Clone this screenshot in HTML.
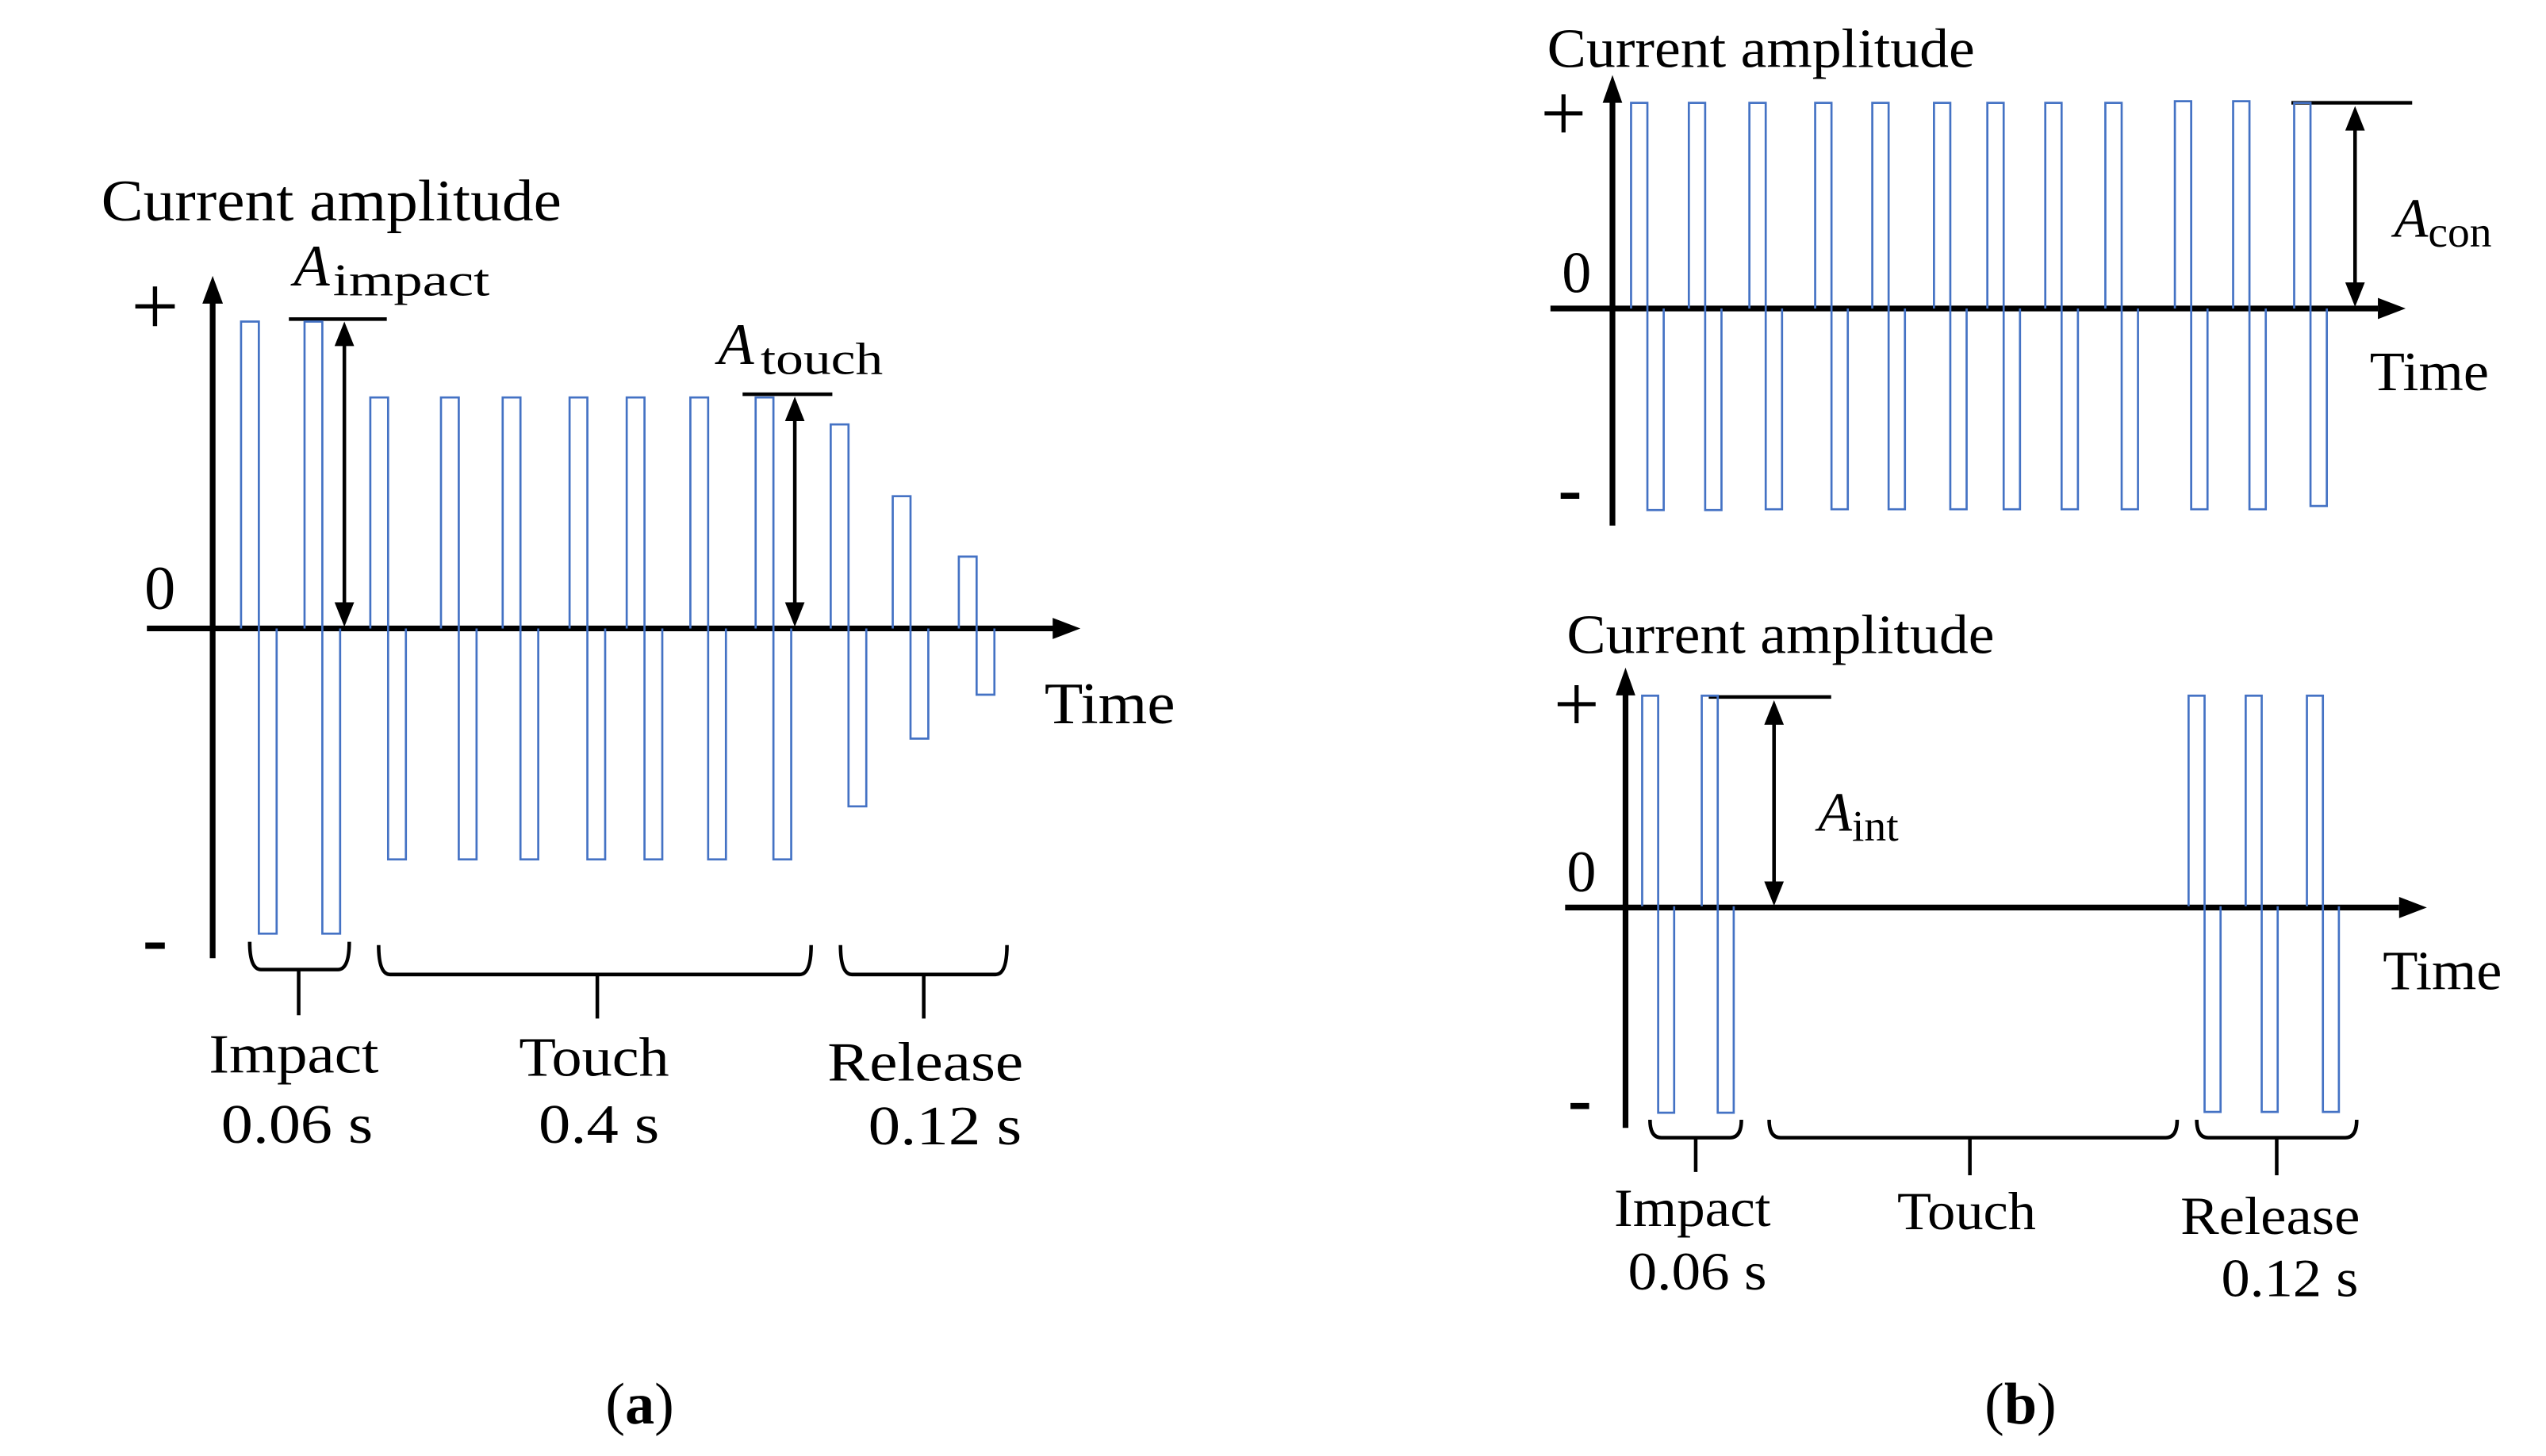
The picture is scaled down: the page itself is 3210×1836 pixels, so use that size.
<!DOCTYPE html>
<html><head><meta charset="utf-8"><style>
html,body{margin:0;padding:0;background:#fff}
svg{display:block}
text{font-family:"Liberation Serif",serif;fill:#000}
</style></head><body>
<svg id="fig" width="3210" height="1836" viewBox="0 0 1560 892" preserveAspectRatio="none" xmlns="http://www.w3.org/2000/svg">
<g id="pa">
  <line x1="130.3" y1="587" x2="130.3" y2="182" stroke="#000" stroke-width="3.5"/>
  <polygon points="130.3,169 124,186 136.6,186"/>
  <line x1="90" y1="385" x2="646" y2="385" stroke="#000" stroke-width="3.5"/>
  <polygon points="662,385 645,378.5 645,391.5"/>
  <text x="62" y="135" font-size="36" textLength="282" lengthAdjust="spacingAndGlyphs">Current amplitude</text>
  <text x="95" y="205" font-size="52" text-anchor="middle">+</text>
  <text x="98" y="373" font-size="38" text-anchor="middle">0</text>
  <text x="95" y="590" font-size="46" font-weight="bold" text-anchor="middle">-</text>
  <text x="640" y="443" font-size="36" textLength="80" lengthAdjust="spacingAndGlyphs">Time</text>
  <line x1="177" y1="195.5" x2="237" y2="195.5" stroke="#000" stroke-width="2.2"/>
  <line x1="211" y1="210" x2="211" y2="370" stroke="#000" stroke-width="2.2"/>
  <polygon points="211,197 205,212 217,212"/>
  <polygon points="211,384 205,369 217,369"/>
  <text x="180" y="175" font-size="36" font-style="italic">A</text>
  <text x="204" y="181" font-size="28" textLength="96" lengthAdjust="spacingAndGlyphs">impact</text>
  <line x1="455" y1="241.5" x2="510" y2="241.5" stroke="#000" stroke-width="2.2"/>
  <line x1="487" y1="256" x2="487" y2="370" stroke="#000" stroke-width="2.2"/>
  <polygon points="487,243 481,258 493,258"/>
  <polygon points="487,384 481,369 493,369"/>
  <text x="440" y="223" font-size="36" font-style="italic">A</text>
  <text x="466" y="229" font-size="28" textLength="75" lengthAdjust="spacingAndGlyphs">touch</text>
  <g id="pa-pulses"></g>
  <g id="pa-braces"></g>
  <text x="180" y="657" font-size="34" text-anchor="middle" textLength="104" lengthAdjust="spacingAndGlyphs">Impact</text>
  <text x="182" y="700" font-size="34" text-anchor="middle" textLength="93" lengthAdjust="spacingAndGlyphs">0.06 s</text>
  <text x="364" y="659" font-size="34" text-anchor="middle" textLength="92" lengthAdjust="spacingAndGlyphs">Touch</text>
  <text x="367" y="700" font-size="34" text-anchor="middle" textLength="74" lengthAdjust="spacingAndGlyphs">0.4 s</text>
  <text x="567" y="662" font-size="34" text-anchor="middle" textLength="120" lengthAdjust="spacingAndGlyphs">Release</text>
  <text x="579" y="701" font-size="34" text-anchor="middle" textLength="94" lengthAdjust="spacingAndGlyphs">0.12 s</text>
  <text x="392" y="872" font-size="36" text-anchor="middle">(<tspan font-weight="bold">a</tspan>)</text>
</g>
<g id="pb">
  <line x1="988" y1="322" x2="988" y2="60" stroke="#000" stroke-width="3.5"/>
  <polygon points="988,46 982,63 994,63"/>
  <line x1="950" y1="189" x2="1457" y2="189" stroke="#000" stroke-width="3.5"/>
  <polygon points="1474,189 1457,182.5 1457,195.5"/>
  <text x="948" y="41" font-size="34" textLength="262" lengthAdjust="spacingAndGlyphs">Current amplitude</text>
  <text x="958" y="86" font-size="50" text-anchor="middle">+</text>
  <text x="966" y="179" font-size="36" text-anchor="middle">0</text>
  <text x="962" y="314" font-size="44" font-weight="bold" text-anchor="middle">-</text>
  <text x="1452" y="239" font-size="34" textLength="73" lengthAdjust="spacingAndGlyphs">Time</text>
  <line x1="1404" y1="63" x2="1478" y2="63" stroke="#000" stroke-width="2.2"/>
  <line x1="1443" y1="78" x2="1443" y2="174" stroke="#000" stroke-width="2.2"/>
  <polygon points="1443,65 1437,80 1449,80"/>
  <polygon points="1443,188 1437,173 1449,173"/>
  <text x="1467" y="145" font-size="34"><tspan font-style="italic">A</tspan><tspan font-size="27" dy="6">con</tspan></text>
  <g id="pb1-pulses"></g>
</g>
<g id="pb2">
  <line x1="996" y1="691" x2="996" y2="423" stroke="#000" stroke-width="3.5"/>
  <polygon points="996,409 990,426 1002,426"/>
  <line x1="959" y1="556" x2="1470" y2="556" stroke="#000" stroke-width="3.5"/>
  <polygon points="1487,556 1470,549.5 1470,562.5"/>
  <text x="960" y="400" font-size="34" textLength="262" lengthAdjust="spacingAndGlyphs">Current amplitude</text>
  <text x="966" y="448" font-size="50" text-anchor="middle">+</text>
  <text x="969" y="546" font-size="36" text-anchor="middle">0</text>
  <text x="968" y="688" font-size="44" font-weight="bold" text-anchor="middle">-</text>
  <text x="1460" y="606" font-size="34" textLength="73" lengthAdjust="spacingAndGlyphs">Time</text>
  <line x1="1047" y1="427" x2="1122" y2="427" stroke="#000" stroke-width="2.2"/>
  <line x1="1087" y1="442" x2="1087" y2="541" stroke="#000" stroke-width="2.2"/>
  <polygon points="1087,429 1081,444 1093,444"/>
  <polygon points="1087,555 1081,540 1093,540"/>
  <text x="1114" y="509" font-size="34"><tspan font-style="italic">A</tspan><tspan font-size="27" dy="6">int</tspan></text>
  <g id="pb2-pulses"></g>
  <g id="pb2-braces"></g>
  <text x="1037" y="751" font-size="33" text-anchor="middle" textLength="96" lengthAdjust="spacingAndGlyphs">Impact</text>
  <text x="1040" y="790" font-size="33" text-anchor="middle" textLength="85" lengthAdjust="spacingAndGlyphs">0.06 s</text>
  <text x="1205" y="753" font-size="33" text-anchor="middle" textLength="85" lengthAdjust="spacingAndGlyphs">Touch</text>
  <text x="1391" y="756" font-size="33" text-anchor="middle" textLength="110" lengthAdjust="spacingAndGlyphs">Release</text>
  <text x="1403" y="794" font-size="33" text-anchor="middle" textLength="84" lengthAdjust="spacingAndGlyphs">0.12 s</text>
  <text x="1238" y="872" font-size="36" text-anchor="middle">(<tspan font-weight="bold">b</tspan>)</text>
</g>
</svg>
<script>
// Panel (a): pulse start times (px from y-axis) and amplitudes
const aTimes = [17.4, 56.3, 96.6, 139.9, 177.7, 218.7, 253.7, 292.7, 332.7, 378.7, 416.7, 457.2];
const aPos = [188, 188, 141.5, 141.5, 141.5, 141.5, 141.5, 141.5, 141.5, 125, 81, 44];
const aNeg = [187, 187, 141.5, 141.5, 141.5, 141.5, 141.5, 141.5, 141.5, 109, 67.5, 40.6];
// Panel (b) continuous
const b1Times = [15.8, 51.2, 88.3, 128.6, 163.6, 201.4, 234.1, 269.6, 306.4, 349, 384.7, 422.1];
const b1Pos = [126, 126, 126, 126, 126, 126, 126, 126, 126, 127, 127, 126];
const b1Neg = [123.5, 123.5, 123, 123, 123, 123, 123, 123, 123, 123, 123, 121];
// Panel (b) intermittent
const b2Times = [14.5, 51, 349.3, 384.3, 421.8];
const b2Pos = [129, 129, 129, 129, 129];
const b2Neg = [126.5, 126.5, 126, 126, 126];

const NS = 'http://www.w3.org/2000/svg';
function drawPulses(gid, times, pos, neg, x0, y0, w) {
  const g = document.getElementById(gid);
  const xs = t => x0 + t;
  const ys = v => y0 - v;
  for (let i = 0; i < times.length; i++) {
    const xa = xs(times[i]), xb = xa + w, xc = xb + w;
    const p = document.createElementNS(NS, 'path');
    p.setAttribute('d', `M${xa},${y0} V${ys(pos[i])} H${xb} V${ys(-neg[i])} H${xc} V${y0}`);
    p.setAttribute('fill', 'none');
    p.setAttribute('stroke', '#4472C4');
    p.setAttribute('stroke-width', '1.3');
    
    
    g.appendChild(p);
  }
}
drawPulses('pa-pulses', aTimes, aPos, aNeg, 130.3, 385, 10.9);
drawPulses('pb1-pulses', b1Times, b1Pos, b1Neg, 983.6, 189, 10);
drawPulses('pb2-pulses', b2Times, b2Pos, b2Neg, 991.7, 555.2, 9.8);

function brace(gid, x0, x1, xc, yt, yb, ys) {
  const g = document.getElementById(gid);
  const p = document.createElementNS(NS, 'path');
  p.setAttribute('d', `M${x0},${yt} Q${x0},${yb} ${x0+7},${yb} H${x1-7} Q${x1},${yb} ${x1},${yt} M${xc},${yb} V${ys}`);
  p.setAttribute('fill', 'none');
  p.setAttribute('stroke', '#000');
  p.setAttribute('stroke-width', '2.2');
  
  
  g.appendChild(p);
}
brace('pa-braces', 153, 214, 183, 577, 594, 622);
brace('pa-braces', 232, 497, 366, 579, 597, 624);
brace('pa-braces', 515, 617, 566, 579, 597, 624);
brace('pb2-braces', 1011, 1067, 1039, 686, 697, 718);
brace('pb2-braces', 1084, 1334, 1207, 686, 697, 720);
brace('pb2-braces', 1346, 1444, 1395, 686, 697, 720);
</script>
</body></html>
